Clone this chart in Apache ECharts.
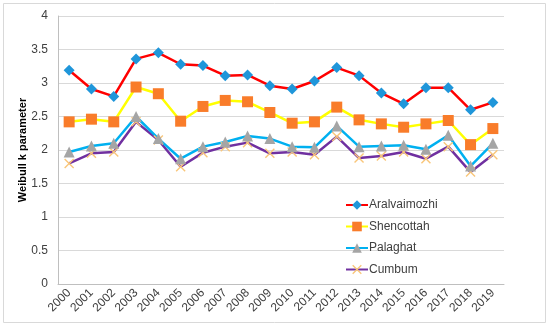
<!DOCTYPE html>
<html><head><meta charset="utf-8">
<script src="https://cdn.jsdelivr.net/npm/echarts@6/dist/echarts.min.js"></script>
<style>html,body{margin:0;padding:0;background:#fff}#c{width:550px;height:328px}</style>
</head><body><div id="c"></div>
<script>
const years = ['2000','2001','2002','2003','2004','2005','2006','2007','2008','2009','2010','2011','2012','2013','2014','2015','2016','2017','2018','2019'];
const aralvaimozhi = [3.19,2.91,2.80,3.36,3.45,3.28,3.26,3.11,3.12,2.96,2.91,3.03,3.23,3.11,2.85,2.69,2.93,2.93,2.60,2.71];
const shencottah = [2.42,2.46,2.42,2.94,2.84,2.43,2.65,2.74,2.72,2.56,2.40,2.42,2.64,2.45,2.39,2.34,2.39,2.44,2.08,2.32];
const palaghat = [1.97,2.06,2.10,2.50,2.17,1.87,2.05,2.12,2.21,2.17,2.05,2.04,2.36,2.05,2.06,2.07,2.01,2.22,1.76,2.10];
const cumbum = [1.80,1.95,1.97,2.42,2.15,1.75,1.96,2.05,2.11,1.95,1.97,1.93,2.20,1.88,1.91,1.97,1.87,2.05,1.67,1.93];
const yTicks = [0,0.5,1,1.5,2,2.5,3,3.5,4];
const yTitle = 'Weibull k parameter';

const xPath = 'path://M0,1 L1,0 L5,4 L9,0 L10,1 L6,5 L10,9 L9,10 L5,6 L1,10 L0,9 L4,5 Z';
const font = 'Liberation Sans, Arial, sans-serif';
const chart = echarts.init(document.getElementById('c'));
function s(name, data, lineColor, symbol, symColor, size){
  return {name, type:'line', data, symbol, symbolSize:size,
    lineStyle:{color:lineColor,width:2.5}, itemStyle:{color:symColor, borderWidth:0},
    color:lineColor, emphasis:{disabled:true}, animation:false};
}
chart.setOption({
  animation:false,
  graphic:[{type:'rect',shape:{x:3.5,y:3.5,width:542,height:319},style:{fill:'none',stroke:'#D9D9D9',lineWidth:1},silent:true}],
  grid:{left:58,right:46,top:16,bottom:44},
  xAxis:{type:'category',data:years,boundaryGap:true,
    axisLine:{lineStyle:{color:'#BFBFBF'}},axisTick:{show:false},
    axisLabel:{rotate:45,color:'#404040',fontSize:12,fontFamily:font,margin:7}},
  yAxis:{type:'value',min:0,max:4,interval:0.5,
    name:yTitle,nameLocation:'middle',nameGap:30,nameRotate:90,nameMoveOverlap:false,
    nameTextStyle:{fontWeight:'bold',fontSize:11,color:'#000',fontFamily:font},
    axisLine:{show:true,lineStyle:{color:'#BFBFBF'}},axisTick:{show:false},
    splitLine:{lineStyle:{color:'#D9D9D9'}},
    axisLabel:{color:'#404040',fontSize:12,fontFamily:font,margin:10,
      formatter:v=>yTicks.includes(v)?String(v):''}},
  legend:{orient:'vertical',left:340,top:194,itemGap:9.5,itemWidth:22,itemHeight:12,
    textStyle:{color:'#404040',fontSize:12,fontFamily:font,padding:[0,0,0,-4]},
    data:['Aralvaimozhi','Shencottah','Palaghat','Cumbum']},
  series:[
    s('Cumbum',cumbum,'#7030A0',xPath,'#F9C67A',10),
    s('Palaghat',palaghat,'#00B0F0','triangle','#A5A5A5',11),
    s('Shencottah',shencottah,'#FFFF00','rect','#F97C2A',11),
    s('Aralvaimozhi',aralvaimozhi,'#FF0000','diamond','#1F96DA',11)
  ]
});
</script></body></html>
